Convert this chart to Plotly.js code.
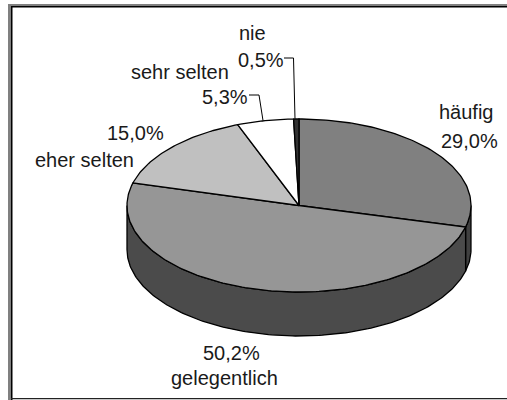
<!DOCTYPE html>
<html><head><meta charset="utf-8">
<script src="https://cdn.plot.ly/plotly-3.0.1.min.js"></script>
<style>html,body{margin:0;padding:0;background:#fff}</style></head>
<body><div id="chart" style="width:507px;height:400px"></div>
<script>
const categories=['häufig','gelegentlich','eher selten','sehr selten','nie'];
const values=[29.0,50.2,15.0,5.3,0.5];
const topColors=['#808080','#969696','#c0c0c0','#ffffff','#333333'];
const sideColors=['#404040','#4b4b4b','#606060','#808080','#1a1a1a'];
const cx=299,cy=205.5,rx=172,ry=86.5,depth=44;
const total=values.reduce((a,b)=>a+b,0);
const fmt=v=>v.toFixed(1).replace('.',',')+'%';
const ln={color:'#000',width:1.3};
const traces=[];
function pt(deg,dy){const t=deg*Math.PI/180;return [cx+rx*Math.sin(t),cy-ry*Math.cos(t)+(dy||0)];}
function arc(a,b,dy){const p=[];const n=Math.max(2,Math.ceil(Math.abs(b-a)));for(let i=0;i<=n;i++)p.push(pt(a+(b-a)*i/n,dy));return p;}
function add(pts,fill){traces.push({type:'scatter',mode:'lines',x:pts.map(p=>p[0]),y:pts.map(p=>p[1]),fill:'toself',fillcolor:fill,line:ln,hoverinfo:'skip',showlegend:false});}
let acc=0;const spans=values.map(v=>{const s=[acc,acc+v/total*360];acc=s[1];return s;});
spans.forEach((s,i)=>{const a=Math.max(s[0],90),b=Math.min(s[1],270);if(b>a){const top=arc(a,b,0),bot=arc(b,a,depth);add(top.concat(bot,[top[0]]),sideColors[i]);}});
spans.forEach((s,i)=>{const e=arc(s[0],s[1],0);add([[cx,cy]].concat(e,[[cx,cy]]),topColors[i]);});
[[[284,58],[293.5,58],[295,119]],[[249,95],[259,95],[263,120.5]]].forEach(p=>traces.push({type:'scatter',mode:'lines',x:p.map(q=>q[0]),y:p.map(q=>q[1]),line:{color:'#000',width:1},hoverinfo:'skip',showlegend:false}));
const font={family:'Liberation Sans, Arial, sans-serif',size:20,color:'#1a1a1a'};
function ann(x,y,t){return {x,y,text:t,showarrow:false,xref:'x',yref:'y',font,xanchor:'center',yanchor:'middle'};}
const annotations=[
 ann(466,112,categories[0]),ann(469,141,fmt(values[0])),
 ann(231,353,fmt(values[1])),ann(224.5,378,categories[1]),
 ann(135,133,fmt(values[2])),ann(84,160,categories[2]),
 ann(180,72,categories[3]),ann(225,97,fmt(values[3])),
 ann(252,33,categories[4]),ann(261,60,fmt(values[4]))];
const bar=(x0,y0,x1,y1,c)=>({type:'rect',xref:'x',yref:'y',x0,y0,x1,y1,line:{width:0},fillcolor:c,layer:'below'});
const layout={width:507,height:400,margin:{l:0,r:0,t:0,b:0},paper_bgcolor:'#fff',plot_bgcolor:'#fff',showlegend:false,
 xaxis:{range:[0,507],visible:false,fixedrange:true},yaxis:{range:[400,0],visible:false,fixedrange:true},
 shapes:[bar(8,4,507,6,'#808080'),bar(8,4,11,400,'#808080'),bar(11,6,507,7.5,'#000'),bar(11,6,12.5,400,'#000'),bar(11,398,507,399.3,'#222')],annotations};
Plotly.newPlot('chart',traces,layout,{staticPlot:true});
</script></body></html>
